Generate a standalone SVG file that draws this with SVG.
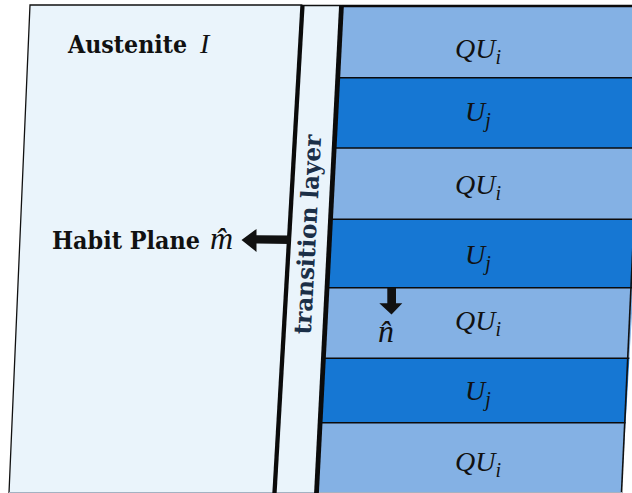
<svg xmlns="http://www.w3.org/2000/svg" width="632" height="493" viewBox="0 0 632 493">
<style>
.lbl{font-family:"DejaVu Serif","Liberation Serif",serif;font-weight:bold;fill:#111}
.math{font-family:"Liberation Serif","DejaVu Serif",serif;font-style:italic;font-size:28px;fill:#111}
.sub{font-size:20px}
.big{font-size:32px}
.light{fill:#84B1E4}
.dark{fill:#1677D3}
.sep{stroke:#0b0b0b;stroke-width:1.6}
.arrow{fill:#111}
</style>
<defs>
<clipPath id="mclip"><polygon points="341.5,5 650,5 621.5,493 316.5,493"/></clipPath>
</defs>
<rect width="632" height="493" fill="#ffffff"/>
<g id="austenite">
<polygon points="30,5 302.5,5 274.5,493 9,493" fill="#EAF4FB"/>
<polyline points="302.5,5 30,5 9,493" fill="none" stroke="#111" stroke-width="1.3"/>
<text class="lbl" x="68" y="53" font-size="24" textLength="119" lengthAdjust="spacingAndGlyphs">Austenite</text>
<text class="math" x="200" y="53">I</text>
</g>
<g id="transition-layer">
<polygon points="302.5,5 341.5,5 316.5,493 274.5,493" fill="#EAF4FB"/>
<line x1="302.5" y1="5.5" x2="341.5" y2="5.5" stroke="#111" stroke-width="1.3"/>
<text class="lbl" transform="translate(316,235) rotate(-87)" x="0" y="0" font-size="24" text-anchor="middle" textLength="200" lengthAdjust="spacingAndGlyphs" style="fill:#1B2F47">transition layer</text>
</g>
<g id="martensite" clip-path="url(#mclip)">
<g id="stripe1"><rect class="light" x="300" y="5" width="350" height="72.7"/></g>
<g id="stripe2"><rect class="dark" x="300" y="77.7" width="350" height="70.3"/></g>
<g id="stripe3"><rect class="light" x="300" y="148" width="350" height="71.3"/></g>
<g id="stripe4"><rect class="dark" x="300" y="219.3" width="350" height="68.4"/></g>
<g id="stripe5"><rect class="light" x="300" y="287.7" width="350" height="70.6"/></g>
<g id="stripe6"><rect class="dark" x="300" y="358.3" width="350" height="64.4"/></g>
<g id="stripe7"><rect class="light" x="300" y="422.7" width="350" height="70.3"/></g>
<line class="sep" x1="300" y1="77.7" x2="650" y2="77.7"/>
<line class="sep" x1="300" y1="148" x2="650" y2="148"/>
<line class="sep" x1="300" y1="219.3" x2="650" y2="219.3"/>
<line class="sep" x1="300" y1="287.7" x2="650" y2="287.7"/>
<line class="sep" x1="300" y1="358.3" x2="650" y2="358.3"/>
<line class="sep" x1="300" y1="422.7" x2="650" y2="422.7"/>
</g>
<line x1="341.5" y1="6" x2="640" y2="6" stroke="#0b0b0b" stroke-width="2.5"/>
<line x1="644" y1="5" x2="621.5" y2="493" stroke="#111" stroke-width="1.6"/>
<line x1="9" y1="492.5" x2="622" y2="492.5" stroke="#A4B2C2" stroke-width="1.2"/>
<line x1="302.5" y1="5" x2="274.5" y2="493" stroke="#0b0b0b" stroke-width="4.3"/>
<line x1="341.5" y1="5" x2="316.5" y2="493" stroke="#0b0b0b" stroke-width="4.8"/>
<g id="labels">
<text class="math" x="478" y="58" text-anchor="middle">QU<tspan class="sub" dy="6">i</tspan></text>
<text class="math" x="478" y="121" text-anchor="middle">U<tspan class="sub" dy="6">j</tspan></text>
<text class="math" x="478" y="194" text-anchor="middle">QU<tspan class="sub" dy="6">i</tspan></text>
<text class="math" x="478" y="264" text-anchor="middle">U<tspan class="sub" dy="6">j</tspan></text>
<text class="math" x="478" y="330" text-anchor="middle">QU<tspan class="sub" dy="6">i</tspan></text>
<text class="math" x="478" y="400" text-anchor="middle">U<tspan class="sub" dy="6">j</tspan></text>
<text class="math" x="478" y="471" text-anchor="middle">QU<tspan class="sub" dy="6">i</tspan></text>
</g>
<g id="habit-plane-label">
<text class="lbl" x="52" y="249" font-size="24" textLength="148" lengthAdjust="spacingAndGlyphs">Habit Plane</text>
<text class="math big" x="210" y="249">m̂</text>
</g>
<g id="normal-label">
<text class="math big" x="378" y="342">n̂</text>
</g>
<g id="connectors">
<polygon class="arrow" points="290,235.5 256.5,235.3 256.5,229 241.5,240 256.5,252 256.5,243.5 290,244"/>
<polygon class="arrow" points="387.3,288 396,288 396,303.3 402.3,303.3 391.5,314.5 379.3,303.3 387.3,303.3"/>
</g>
</svg>
